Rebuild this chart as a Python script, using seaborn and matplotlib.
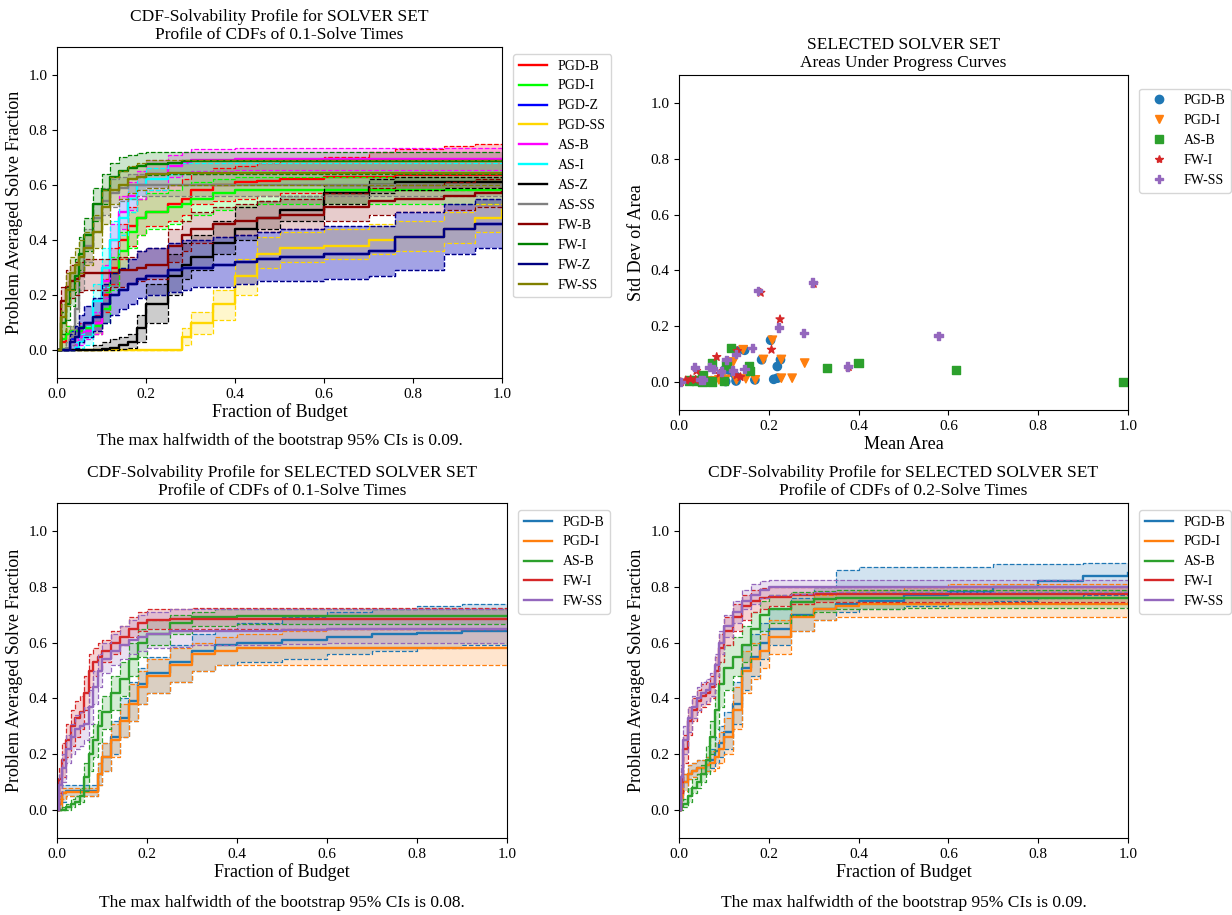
import numpy as np
import pandas as pd
import matplotlib
matplotlib.use('Agg')
import matplotlib.pyplot as plt
import seaborn as sns

# ---------------- data ----------------
# top-left panel: full solver set, 0.1-solve times
GRID_A = [0, .01, .02, .03, .04, .05, .06, .08, .10, .12, .14, .16, .18, .20,
          .25, .28, .30, .35, .40, .45, .50, .60, .70, .76, .87, .94, 1.0]
SOLVERS_A = ['PGD-B', 'PGD-I', 'PGD-Z', 'PGD-SS', 'AS-B', 'AS-I', 'AS-Z', 'AS-SS',
             'FW-B', 'FW-I', 'FW-Z', 'FW-SS']
COLORS_A = ['red', 'lime', 'blue', 'gold', 'magenta', 'cyan', 'black', 'gray',
            'darkred', 'green', 'navy', 'olive']

MEAN_A = {
    'PGD-B': [0, .03, .06, .07, .07, .08, .08, .10, .20, .30, .40, .45, .48, .50,
              .53, .55, .58, .60, .61, .615, .62, .63, .63, .635, .635, .635, .635],
    'PGD-I': [0, .04, .06, .07, .07, .07, .08, .09, .15, .28, .36, .43, .48, .50,
              .52, .53, .55, .57, .58, .58, .58, .58, .58, .58, .58, .58, .58],
    'PGD-Z': [0, 0, 0, .04, .05, .08, .10, .12, .17, .20, .22, .24, .26, .27,
              .29, .30, .30, .31, .32, .33, .34, .35, .36, .41, .44, .46, .46],
    'PGD-SS': [0, 0, 0, 0, 0, 0, 0, 0, 0, 0, 0, 0, 0, 0,
               0, .05, .10, .17, .27, .35, .37, .38, .40, .41, .44, .48, .51],
    'AS-B': [0, 0, 0, 0, .02, .05, .07, .10, .25, .40, .50, .56, .60, .64,
             .67, .68, .69, .69, .695, .695, .695, .695, .695, .695, .695, .695, .695],
    'AS-I': [0, 0, 0, 0, .01, .03, .05, .18, .30, .40, .48, .55, .60, .62,
             .64, .645, .645, .645, .645, .645, .645, .645, .645, .645, .645, .645, .645],
    'AS-Z': [0, 0, 0, 0, 0, 0, 0, 0, .005, .01, .02, .03, .08, .17,
             .27, .31, .34, .39, .44, .48, .51, .57, .60, .61, .61, .61, .61],
    'AS-SS': [0, 0, .01, .05, .15, .28, .38, .48, .54, .57, .59, .60, .60, .60,
              .60, .60, .60, .60, .60, .60, .60, .60, .60, .60, .60, .60, .60],
    'FW-B': [0, .18, .23, .25, .26, .27, .28, .28, .28, .28, .29, .29, .30, .31,
             .38, .42, .44, .46, .47, .48, .49, .52, .54, .55, .56, .57, .575],
    'FW-I': [0, .10, .17, .22, .27, .35, .42, .53, .58, .63, .65, .66, .67, .675,
             .68, .685, .685, .685, .685, .685, .685, .685, .685, .685, .685, .685, .685],
    'FW-Z': [0, 0, 0, .03, .05, .08, .10, .12, .17, .20, .22, .24, .26, .27,
             .29, .30, .30, .31, .32, .33, .34, .35, .36, .41, .44, .46, .46],
    'FW-SS': [0, .12, .22, .28, .31, .34, .37, .43, .52, .58, .60, .62, .63, .64,
              .645, .645, .645, .645, .645, .645, .645, .645, .645, .645, .645, .645, .645],
}
LO_A = {
    'PGD-B': [0, 0, .03, .05, .05, .05, .05, .06, .14, .24, .33, .38, .42, .45,
              .47, .49, .53, .54, .55, .56, .57, .57, .58, .58, .58, .58, .58],
    'PGD-I': [0, .01, .03, .04, .05, .05, .05, .06, .10, .22, .30, .37, .42, .44,
              .46, .47, .49, .51, .52, .53, .53, .53, .53, .53, .53, .53, .53],
    'PGD-Z': [0, 0, 0, 0, .01, .03, .05, .07, .10, .13, .15, .17, .19, .20,
              .21, .22, .23, .23, .24, .25, .25, .26, .27, .29, .35, .37, .37],
    'PGD-SS': [0, 0, 0, 0, 0, 0, 0, 0, 0, 0, 0, 0, 0, 0,
               0, .02, .06, .11, .20, .30, .32, .33, .35, .36, .39, .43, .45],
    'AS-B': [0, 0, 0, 0, 0, .02, .04, .06, .19, .33, .44, .51, .55, .59,
             .63, .64, .65, .65, .655, .655, .655, .655, .655, .655, .655, .655, .655],
    'AS-I': [0, 0, 0, 0, 0, .01, .02, .12, .23, .33, .42, .50, .56, .58,
             .60, .60, .60, .60, .60, .60, .60, .60, .60, .60, .60, .60, .60],
    'AS-Z': [0, 0, 0, 0, 0, 0, 0, 0, 0, 0, .005, .01, .03, .10,
             .20, .26, .29, .35, .40, .44, .47, .53, .57, .58, .59, .59, .59],
    'AS-SS': [0, 0, 0, .02, .10, .22, .32, .43, .49, .52, .54, .55, .56, .56,
              .56, .56, .56, .56, .56, .56, .56, .56, .56, .56, .56, .56, .56],
    'FW-B': [0, .14, .17, .19, .20, .21, .22, .22, .22, .23, .23, .24, .25, .26,
             .32, .36, .39, .41, .42, .43, .44, .47, .49, .50, .51, .52, .53],
    'FW-I': [0, .06, .11, .16, .21, .29, .36, .47, .53, .58, .60, .62, .63, .635,
             .64, .64, .64, .64, .64, .64, .64, .64, .64, .64, .64, .64, .64],
    'FW-Z': [0, 0, 0, 0, .01, .03, .05, .07, .10, .13, .15, .17, .19, .20,
             .21, .22, .23, .23, .24, .25, .25, .26, .27, .29, .35, .37, .37],
    'FW-SS': [0, .07, .16, .22, .25, .28, .31, .37, .46, .53, .55, .57, .58, .59,
              .60, .60, .60, .60, .60, .60, .60, .60, .60, .60, .60, .60, .60],
}
HI_A = {
    'PGD-B': [0, .06, .09, .09, .09, .10, .10, .13, .26, .37, .46, .52, .55, .58,
              .60, .62, .64, .66, .67, .68, .69, .70, .72, .73, .74, .75, .75],
    'PGD-I': [0, .07, .09, .09, .09, .09, .10, .12, .21, .34, .43, .50, .55, .57,
              .58, .60, .61, .62, .63, .63, .63, .63, .63, .63, .63, .63, .63],
    'PGD-Z': [0, 0, 0, .07, .09, .13, .16, .19, .24, .28, .30, .33, .36, .37,
              .39, .40, .40, .41, .42, .43, .44, .45, .45, .50, .53, .55, .55],
    'PGD-SS': [0, 0, 0, 0, 0, 0, 0, 0, 0, 0, 0, 0, 0, 0,
               0, .08, .14, .22, .33, .41, .43, .44, .46, .47, .50, .53, .55],
    'AS-B': [0, 0, 0, 0, .05, .08, .10, .14, .31, .46, .56, .61, .65, .69,
             .71, .72, .73, .73, .735, .735, .735, .735, .735, .735, .735, .735, .735],
    'AS-I': [0, 0, 0, 0, .03, .06, .09, .24, .37, .47, .54, .60, .63, .66,
             .68, .68, .68, .68, .68, .68, .68, .68, .68, .68, .68, .68, .68],
    'AS-Z': [0, 0, 0, 0, 0, 0, 0, .02, .03, .04, .05, .06, .13, .24,
             .35, .39, .42, .47, .52, .54, .56, .60, .62, .63, .63, .63, .63],
    'AS-SS': [0, 0, .03, .09, .20, .34, .44, .53, .59, .62, .63, .64, .64, .64,
              .64, .64, .64, .64, .64, .64, .64, .64, .64, .64, .64, .64, .64],
    'FW-B': [0, .23, .29, .31, .32, .32, .33, .33, .33, .33, .34, .34, .36, .37,
             .44, .47, .50, .52, .53, .54, .55, .57, .59, .60, .61, .62, .63],
    'FW-I': [0, .14, .23, .28, .33, .41, .48, .59, .64, .68, .70, .71, .715, .72,
             .72, .72, .72, .72, .72, .72, .72, .72, .72, .72, .72, .72, .72],
    'FW-Z': [0, 0, 0, .06, .09, .13, .16, .19, .24, .28, .30, .33, .36, .37,
             .39, .40, .40, .41, .42, .43, .44, .45, .45, .50, .53, .55, .55],
    'FW-SS': [0, .17, .28, .34, .37, .40, .43, .49, .58, .63, .65, .67, .68, .69,
              .69, .69, .69, .69, .69, .69, .69, .69, .69, .69, .69, .69, .69],
}

# bottom panels: selected solver set
GRID_B = [0, .005, .01, .02, .03, .04, .05, .06, .07, .08, .09, .10, .12, .14,
          .16, .18, .20, .25, .30, .35, .40, .50, .60, .70, .80, .90, 1.0]
SOLVERS_B = ['PGD-B', 'PGD-I', 'AS-B', 'FW-I', 'FW-SS']
COLORS_B = sns.color_palette('tab10', 5)

# 0.1-solve times
MEAN_B1 = {
    'PGD-B': [0, .02, .06, .07, .07, .07, .07, .07, .07, .07, .13, .19, .26, .33,
              .39, .45, .49, .53, .57, .59, .60, .61, .62, .63, .635, .64, .64],
    'PGD-I': [0, .02, .06, .065, .065, .065, .065, .065, .065, .065, .13, .19, .25, .32,
              .38, .44, .48, .52, .56, .57, .58, .58, .58, .58, .58, .58, .58],
    'AS-B': [0, 0, 0, .01, .02, .03, .05, .12, .20, .25, .30, .35, .42, .47,
             .54, .60, .63, .67, .69, .69, .695, .695, .695, .695, .695, .695, .695],
    'FW-I': [0, .11, .18, .25, .30, .33, .35, .42, .50, .53, .55, .57, .60, .62,
             .65, .67, .68, .685, .685, .685, .685, .685, .685, .685, .685, .685, .685],
    'FW-SS': [0, .09, .15, .22, .26, .29, .30, .31, .37, .44, .50, .54, .57, .59,
              .61, .62, .63, .64, .64, .64, .64, .645, .65, .65, .65, .65, .65],
}
LO_B1 = {
    'PGD-B': [0, 0, .03, .05, .05, .05, .05, .05, .05, .05, .09, .14, .20, .26,
              .32, .38, .42, .46, .50, .52, .53, .54, .56, .57, .58, .59, .59],
    'PGD-I': [0, 0, .04, .05, .05, .05, .05, .05, .05, .05, .09, .14, .19, .26,
              .32, .38, .42, .46, .50, .52, .52, .52, .52, .52, .52, .52, .52],
    'AS-B': [0, 0, 0, 0, .01, .02, .03, .07, .14, .19, .24, .29, .36, .41,
             .48, .55, .59, .63, .66, .66, .665, .665, .665, .665, .665, .665, .665],
    'FW-I': [0, .06, .12, .19, .23, .26, .29, .36, .44, .48, .50, .53, .56, .59,
             .62, .64, .65, .65, .65, .65, .65, .65, .65, .65, .65, .65, .65],
    'FW-SS': [0, .05, .10, .17, .20, .22, .23, .25, .31, .38, .44, .49, .52, .54,
              .56, .57, .58, .585, .59, .59, .59, .595, .60, .60, .60, .60, .60],
}
HI_B1 = {
    'PGD-B': [0, .04, .09, .09, .09, .09, .09, .09, .09, .09, .17, .24, .32, .40,
              .46, .51, .55, .59, .63, .65, .67, .69, .71, .72, .73, .74, .74],
    'PGD-I': [0, .04, .08, .08, .08, .08, .08, .08, .08, .08, .17, .24, .31, .38,
              .45, .50, .54, .58, .60, .62, .63, .64, .65, .65, .65, .65, .65],
    'AS-B': [0, 0, .01, .02, .04, .05, .08, .17, .26, .31, .36, .41, .48, .53,
             .60, .65, .68, .70, .71, .72, .72, .72, .72, .72, .72, .72, .72],
    'FW-I': [0, .15, .24, .31, .36, .39, .41, .48, .56, .58, .60, .61, .64, .66,
             .69, .71, .72, .72, .725, .725, .725, .725, .725, .725, .725, .725, .725],
    'FW-SS': [0, .13, .20, .27, .31, .34, .35, .37, .43, .50, .56, .60, .63, .66,
              .68, .70, .71, .72, .72, .72, .72, .72, .72, .72, .72, .72, .72],
}

# 0.2-solve times
MEAN_B2 = {
    'PGD-B': [0, .05, .10, .13, .14, .15, .15, .16, .18, .21, .24, .28, .38, .51,
              .55, .60, .65, .70, .72, .74, .75, .77, .78, .80, .82, .84, .85],
    'PGD-I': [0, .05, .10, .13, .14, .15, .15, .16, .17, .19, .22, .26, .36, .50,
              .54, .57, .62, .69, .72, .73, .74, .74, .74, .74, .74, .74, .74],
    'AS-B': [0, .01, .02, .05, .08, .10, .13, .18, .26, .36, .45, .51, .55, .59,
             .65, .70, .72, .745, .755, .76, .76, .76, .76, .76, .76, .76, .76],
    'FW-I': [0, .10, .22, .32, .36, .39, .41, .42, .44, .50, .58, .64, .69, .73,
             .75, .76, .765, .77, .775, .775, .775, .775, .775, .775, .775, .775, .775],
    'FW-SS': [0, .12, .25, .33, .37, .40, .42, .43, .45, .52, .60, .66, .71, .75,
              .77, .79, .80, .80, .80, .80, .80, .80, .80, .80, .80, .80, .80],
}
LO_B2 = {
    'PGD-B': [0, .02, .07, .11, .12, .13, .13, .14, .15, .17, .19, .22, .31, .43,
              .48, .54, .59, .64, .68, .71, .72, .73, .74, .75, .76, .77, .78],
    'PGD-I': [0, .02, .07, .11, .12, .13, .13, .14, .14, .15, .17, .20, .29, .42,
              .47, .51, .56, .64, .68, .69, .69, .69, .69, .69, .69, .69, .69],
    'AS-B': [0, 0, .01, .03, .06, .08, .10, .13, .20, .29, .37, .43, .48, .53,
             .59, .64, .67, .70, .71, .72, .72, .725, .725, .725, .725, .725, .725],
    'FW-I': [0, .06, .17, .27, .32, .35, .37, .38, .40, .45, .53, .59, .64, .68,
             .71, .72, .73, .74, .745, .745, .745, .745, .745, .745, .745, .745, .745],
    'FW-SS': [0, .08, .20, .28, .33, .36, .38, .39, .41, .48, .56, .62, .67, .72,
              .74, .76, .77, .775, .78, .78, .78, .78, .78, .78, .78, .78, .78],
}
HI_B2 = {
    'PGD-B': [0, .08, .13, .16, .17, .18, .18, .19, .22, .26, .30, .35, .46, .59,
              .63, .67, .72, .76, .80, .86, .87, .87, .87, .88, .88, .885, .885],
    'PGD-I': [0, .08, .13, .16, .17, .18, .18, .19, .21, .24, .28, .33, .44, .57,
              .60, .63, .68, .74, .77, .78, .79, .80, .81, .81, .81, .81, .81],
    'AS-B': [0, .02, .04, .08, .11, .13, .16, .23, .32, .43, .53, .59, .62, .66,
             .71, .75, .77, .78, .785, .79, .79, .79, .79, .79, .79, .79, .79],
    'FW-I': [0, .14, .27, .37, .40, .43, .45, .46, .48, .55, .63, .69, .74, .77,
             .79, .795, .80, .80, .80, .80, .80, .80, .80, .80, .80, .80, .80],
    'FW-SS': [0, .16, .30, .37, .41, .44, .46, .47, .49, .56, .64, .70, .75, .79,
              .81, .82, .825, .825, .825, .825, .825, .825, .825, .825, .825, .825, .825],
}

# top-right panel: mean / std dev of area under progress curves
AREA_MEAN = {
    'PGD-B': [.05, .072, .104, .102, .117, .127, .127, .13, .146, .169, .184, .204,
              .211, .219, .219, .226],
    'PGD-I': [.05, .07, .089, .104, .121, .128, .143, .149, .17, .188, .208, .228,
              .228, .252, .28],
    'AS-B': [.022, .039, .052, .052, .074, .073, .10, .106, .116, .156, .158, .33,
             .40, .617, .99],
    'FW-I': [.004, .015, .026, .037, .039, .084, .09, .128, .137, .13, .182, .206,
             .225, .30, .378],
    'FW-SS': [.004, .035, .048, .054, .068, .076, .094, .106, .12, .127, .146, .163,
              .176, .222, .278, .298, .376, .578],
}
AREA_STD = {
    'PGD-B': [.005, .005, .002, .044, .036, .004, .02, .111, .114, .008, .08, .15,
              .01, .014, .056, .08],
    'PGD-I': [.003, .004, .008, .01, .072, .008, .116, .012, .008, .081, .15, .081,
              .014, .014, .068],
    'AS-B': [.006, .006, .024, 0, .002, .066, .004, .059, .122, .056, .04, .051,
             .069, .044, 0],
    'FW-I': [0, .006, .01, .008, .04, .09, .03, .024, .018, .111, .32, .116,
             .225, .352, .054],
    'FW-SS': [0, .053, .008, .008, .053, .048, .038, .08, .042, .10, .047, .122,
              .327, .196, .176, .357, .056, .166],
}
MARKERS = {'PGD-B': 'o', 'PGD-I': 'v', 'AS-B': 's', 'FW-I': '*', 'FW-SS': 'P'}

# ---------------- style ----------------
plt.rcParams['font.family'] = ['Liberation Serif', 'DejaVu Serif']

TITLE_FS = 12.5
LABEL_FS = 13
TICK_FS = 11
LEGEND_FS = 10


def style_axes(ax, xlabel, ylabel, title):
    ax.set_xlim(0, 1)
    ax.set_ylim(-0.1, 1.1)
    ax.set_xticks(np.arange(0, 1.01, 0.2))
    ax.set_yticks(np.arange(0, 1.01, 0.2))
    ax.tick_params(labelsize=TICK_FS)
    ax.set_xlabel(xlabel, fontsize=LABEL_FS, labelpad=2)
    ax.set_ylabel(ylabel, fontsize=LABEL_FS, labelpad=4)
    ax.set_title(title, fontsize=TITLE_FS, linespacing=1.15)
    ax.legend(loc='upper left', bbox_to_anchor=(1.01, 1.0), fontsize=LEGEND_FS,
              frameon=True, labelspacing=0.5)


def draw_cdfs(ax, grid, solvers, colors, mean, lo, hi):
    for name, c in zip(solvers, colors):
        ax.fill_between(grid, lo[name], hi[name], step='post', color=c, alpha=0.2, lw=0)
        ax.plot(grid, lo[name], drawstyle='steps-post', ls='--', lw=0.9, color=c)
        ax.plot(grid, hi[name], drawstyle='steps-post', ls='--', lw=0.9, color=c)
        sns.lineplot(x=grid, y=mean[name], ax=ax, color=c, lw=1.7,
                     drawstyle='steps-post', label=name)


fig = plt.figure(figsize=(12.32, 9.15), dpi=100)
W, H = 1232, 915


def add_axes(left, top, right, bottom):
    return fig.add_axes([left / W, 1 - bottom / H, (right - left) / W, (bottom - top) / H])


ax_tl = add_axes(57, 47, 502, 378)
ax_tr = add_axes(679, 75, 1128, 410)
ax_bl = add_axes(57, 503, 507, 838)
ax_br = add_axes(679, 503, 1128, 838)

# top-left
draw_cdfs(ax_tl, GRID_A, SOLVERS_A, COLORS_A, MEAN_A, LO_A, HI_A)
style_axes(ax_tl, 'Fraction of Budget', 'Problem Averaged Solve Fraction',
           'CDF-Solvability Profile for SOLVER SET\nProfile of CDFs of 0.1-Solve Times')

# bottom-left
draw_cdfs(ax_bl, GRID_B, SOLVERS_B, COLORS_B, MEAN_B1, LO_B1, HI_B1)
style_axes(ax_bl, 'Fraction of Budget', 'Problem Averaged Solve Fraction',
           'CDF-Solvability Profile for SELECTED SOLVER SET\nProfile of CDFs of 0.1-Solve Times')

# bottom-right
draw_cdfs(ax_br, GRID_B, SOLVERS_B, COLORS_B, MEAN_B2, LO_B2, HI_B2)
style_axes(ax_br, 'Fraction of Budget', 'Problem Averaged Solve Fraction',
           'CDF-Solvability Profile for SELECTED SOLVER SET\nProfile of CDFs of 0.2-Solve Times')

# top-right scatter
rows = []
for name in SOLVERS_B:
    for m, s in zip(AREA_MEAN[name], AREA_STD[name]):
        rows.append({'solver': name, 'mean': m, 'std': s})
area = pd.DataFrame(rows)
sns.scatterplot(data=area, x='mean', y='std', hue='solver', style='solver',
                markers=MARKERS, palette=list(COLORS_B), hue_order=SOLVERS_B,
                style_order=SOLVERS_B, s=36, edgecolor='face', linewidth=1, ax=ax_tr)
style_axes(ax_tr, 'Mean Area', 'Std Dev of Area',
           'SELECTED SOLVER SET\nAreas Under Progress Curves')
sns.move_legend(ax_tr, 'upper left', bbox_to_anchor=(1.01, 0.98), title=None,
                fontsize=LEGEND_FS, frameon=True, labelspacing=0.5)

# captions
fig.text(279.5 / W, 1 - 441 / H, 'The max halfwidth of the bootstrap 95% CIs is 0.09.',
         ha='center', va='center', fontsize=TITLE_FS)
fig.text(282 / W, 1 - 903 / H, 'The max halfwidth of the bootstrap 95% CIs is 0.08.',
         ha='center', va='center', fontsize=TITLE_FS)
fig.text(903.5 / W, 1 - 903 / H, 'The max halfwidth of the bootstrap 95% CIs is 0.09.',
         ha='center', va='center', fontsize=TITLE_FS)

fig.savefig('out.png', dpi=100)
